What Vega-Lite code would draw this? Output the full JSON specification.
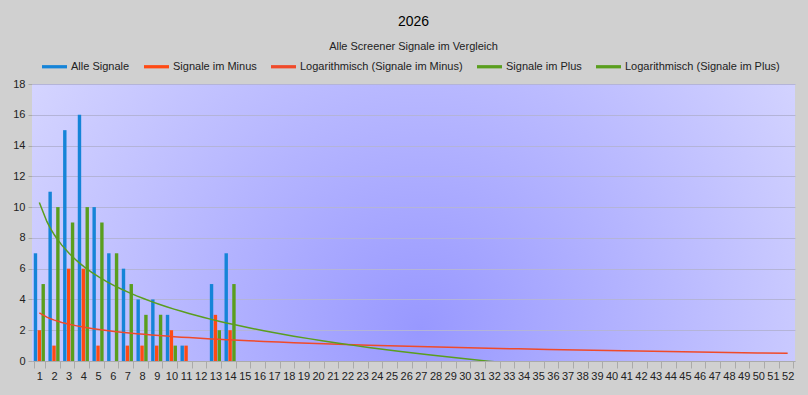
{
  "$schema": "https://vega.github.io/schema/vega-lite/v6.json",
  "width": 763,
  "height": 277,
  "autosize": {"type": "none"},
  "padding": {"left": 32, "top": 84, "right": 13, "bottom": 34},
  "background": "#d0d0d0",
  "title": {
    "text": "2026",
    "subtitle": "Alle Screener Signale im Vergleich",
    "anchor": "middle",
    "font": "Liberation Sans",
    "fontSize": 14,
    "fontWeight": "normal",
    "color": "#000000",
    "subtitleFont": "Liberation Sans",
    "subtitleFontSize": 11,
    "subtitleColor": "#222222",
    "subtitlePadding": 12,
    "offset": 2
  },
  "config": {
    "view": {
      "stroke": null,
      "fill": {
        "gradient": "radial",
        "x1": 0.51, "y1": 0.64, "r1": 0,
        "x2": 0.51, "y2": 0.64, "r2": 0.62,
        "stops": [
          {"offset": 0, "color": "#9898ff"},
          {"offset": 1, "color": "#d6d6ff"}
        ]
      }
    },
    "axis": {
      "labelFont": "Liberation Sans",
      "labelFontSize": 11,
      "labelColor": "#222222",
      "domainColor": "#aaaaaa",
      "tickColor": "#aaaaaa"
    }
  },
  "data": {
    "values": [
      {"week": 1, "series": "Alle Signale", "value": 7},
      {"week": 2, "series": "Alle Signale", "value": 11},
      {"week": 3, "series": "Alle Signale", "value": 15},
      {"week": 4, "series": "Alle Signale", "value": 16},
      {"week": 5, "series": "Alle Signale", "value": 10},
      {"week": 6, "series": "Alle Signale", "value": 7},
      {"week": 7, "series": "Alle Signale", "value": 6},
      {"week": 8, "series": "Alle Signale", "value": 4},
      {"week": 9, "series": "Alle Signale", "value": 4},
      {"week": 10, "series": "Alle Signale", "value": 3},
      {"week": 11, "series": "Alle Signale", "value": 1},
      {"week": 12, "series": "Alle Signale", "value": 0},
      {"week": 13, "series": "Alle Signale", "value": 5},
      {"week": 14, "series": "Alle Signale", "value": 7},
      {"week": 1, "series": "Signale im Minus", "trend": "Logarithmisch (Signale im Minus)", "value": 2},
      {"week": 2, "series": "Signale im Minus", "trend": "Logarithmisch (Signale im Minus)", "value": 1},
      {"week": 3, "series": "Signale im Minus", "trend": "Logarithmisch (Signale im Minus)", "value": 6},
      {"week": 4, "series": "Signale im Minus", "trend": "Logarithmisch (Signale im Minus)", "value": 6},
      {"week": 5, "series": "Signale im Minus", "trend": "Logarithmisch (Signale im Minus)", "value": 1},
      {"week": 6, "series": "Signale im Minus", "trend": "Logarithmisch (Signale im Minus)", "value": 0},
      {"week": 7, "series": "Signale im Minus", "trend": "Logarithmisch (Signale im Minus)", "value": 1},
      {"week": 8, "series": "Signale im Minus", "trend": "Logarithmisch (Signale im Minus)", "value": 1},
      {"week": 9, "series": "Signale im Minus", "trend": "Logarithmisch (Signale im Minus)", "value": 1},
      {"week": 10, "series": "Signale im Minus", "trend": "Logarithmisch (Signale im Minus)", "value": 2},
      {"week": 11, "series": "Signale im Minus", "trend": "Logarithmisch (Signale im Minus)", "value": 1},
      {"week": 12, "series": "Signale im Minus", "trend": "Logarithmisch (Signale im Minus)", "value": 0},
      {"week": 13, "series": "Signale im Minus", "trend": "Logarithmisch (Signale im Minus)", "value": 3},
      {"week": 14, "series": "Signale im Minus", "trend": "Logarithmisch (Signale im Minus)", "value": 2},
      {"week": 1, "series": "Signale im Plus", "trend": "Logarithmisch (Signale im Plus)", "value": 5},
      {"week": 2, "series": "Signale im Plus", "trend": "Logarithmisch (Signale im Plus)", "value": 10},
      {"week": 3, "series": "Signale im Plus", "trend": "Logarithmisch (Signale im Plus)", "value": 9},
      {"week": 4, "series": "Signale im Plus", "trend": "Logarithmisch (Signale im Plus)", "value": 10},
      {"week": 5, "series": "Signale im Plus", "trend": "Logarithmisch (Signale im Plus)", "value": 9},
      {"week": 6, "series": "Signale im Plus", "trend": "Logarithmisch (Signale im Plus)", "value": 7},
      {"week": 7, "series": "Signale im Plus", "trend": "Logarithmisch (Signale im Plus)", "value": 5},
      {"week": 8, "series": "Signale im Plus", "trend": "Logarithmisch (Signale im Plus)", "value": 3},
      {"week": 9, "series": "Signale im Plus", "trend": "Logarithmisch (Signale im Plus)", "value": 3},
      {"week": 10, "series": "Signale im Plus", "trend": "Logarithmisch (Signale im Plus)", "value": 1},
      {"week": 11, "series": "Signale im Plus", "trend": "Logarithmisch (Signale im Plus)", "value": 0},
      {"week": 12, "series": "Signale im Plus", "trend": "Logarithmisch (Signale im Plus)", "value": 0},
      {"week": 13, "series": "Signale im Plus", "trend": "Logarithmisch (Signale im Plus)", "value": 2},
      {"week": 14, "series": "Signale im Plus", "trend": "Logarithmisch (Signale im Plus)", "value": 5}
    ]
  },
  "layer": [
    {
      "mark": {"type": "bar"},
      "encoding": {
        "x": {
          "field": "week",
          "type": "ordinal",
          "title": null,
          "scale": {
            "domain": [1,2,3,4,5,6,7,8,9,10,11,12,13,14,15,16,17,18,19,20,21,22,23,24,25,26,27,28,29,30,31,32,33,34,35,36,37,38,39,40,41,42,43,44,45,46,47,48,49,50,51,52],
            "paddingInner": 0.24,
            "paddingOuter": 0.12
          },
          "axis": {"orient": "bottom", "labelAngle": 0, "tickBand": "extent", "tickSize": 7, "labelPadding": 2, "grid": false}
        },
        "xOffset": {
          "field": "series",
          "type": "nominal",
          "sort": ["Alle Signale", "Signale im Minus", "Signale im Plus"],
          "scale": {"paddingInner": 0.12}
        },
        "y": {
          "field": "value",
          "type": "quantitative",
          "title": null,
          "scale": {"domain": [0, 18]},
          "axis": {"values": [0,2,4,6,8,10,12,14,16,18], "grid": true, "gridColor": "#b4b4d8", "domain": false, "tickSize": 4, "labelPadding": 3}
        },
        "color": {
          "field": "series",
          "type": "nominal",
          "scale": {
            "domain": ["Alle Signale", "Signale im Minus", "Logarithmisch (Signale im Minus)", "Signale im Plus", "Logarithmisch (Signale im Plus)"],
            "range": ["#1584d8", "#ff4a14", "#f04a2a", "#5a9e1e", "#5a9e1e"]
          },
          "legend": {
            "title": null,
            "orient": "none",
            "legendX": 10,
            "legendY": -30,
            "direction": "horizontal",
            "columns": 5,
            "labelFont": "Liberation Sans",
            "labelFontSize": 11,
            "labelColor": "#222222",
            "labelLimit": 400,
            "columnPadding": 14,
            "labelOffset": 4,
            "symbolSize": 625,
            "symbolType": "M-1,-0.13H1V0.13H-1Z",
            "symbolStrokeWidth": 0
          }
        }
      }
    },
    {
      "transform": [
        {"filter": "datum.trend"},
        {"regression": "value", "on": "week", "method": "log", "groupby": ["trend"], "extent": [1, 52]}
      ],
      "mark": {"type": "line", "clip": true, "strokeWidth": 1.5},
      "encoding": {
        "x": {"field": "week", "type": "quantitative", "scale": {"domain": [0.5, 52.5]}, "axis": null},
        "y": {
          "field": "value",
          "type": "quantitative",
          "title": null,
          "axis": {"values": [0,2,4,6,8,10,12,14,16,18], "grid": true, "gridColor": "#b4b4d8", "domain": false, "tickSize": 4, "labelPadding": 3}
        },
        "color": {"field": "trend", "type": "nominal"}
      }
    }
  ],
  "resolve": {"scale": {"x": "independent"}}
}
